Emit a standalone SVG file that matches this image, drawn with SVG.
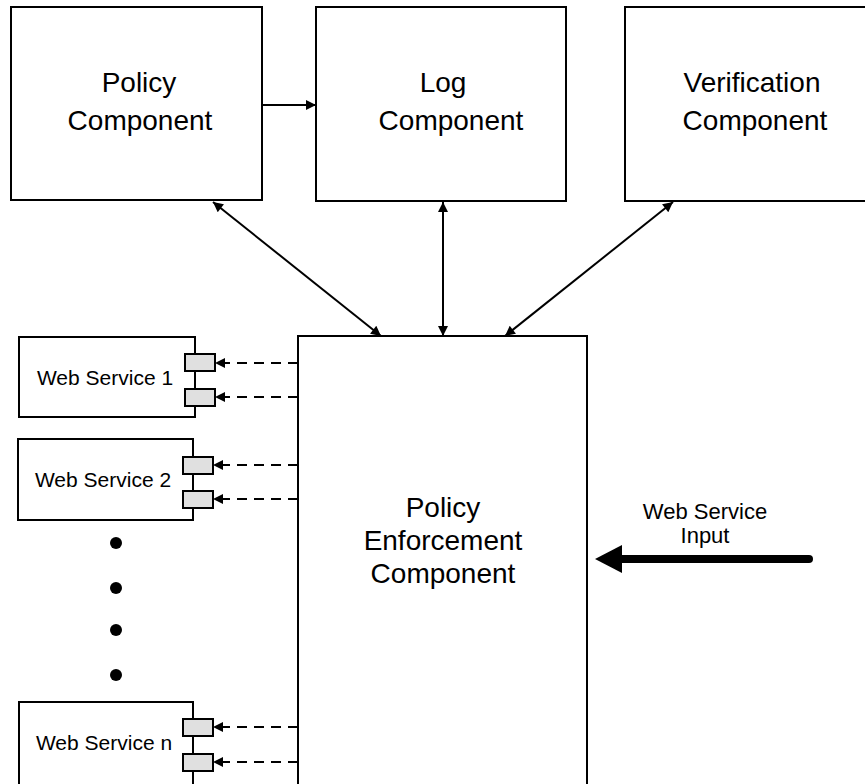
<svg xmlns="http://www.w3.org/2000/svg" width="865" height="784" viewBox="0 0 865 784">
<style>
.box{fill:#fff;stroke:#000;stroke-width:2}
.port{fill:#e0e0e0;stroke:#000;stroke-width:2}
.t{font-family:"Liberation Sans",Arial,sans-serif;fill:#000;text-anchor:middle}
.big{font-size:28px}
.sm{font-size:21px}
.in{font-size:22px}
.ln{stroke:#000;stroke-width:2;fill:none}
.dash{stroke:#000;stroke-width:2;fill:none;stroke-dasharray:10 7}
</style>
<defs>
<marker id="ah" viewBox="0 0 10 10" refX="10" refY="5" markerWidth="6" markerHeight="5" markerUnits="strokeWidth" orient="auto-start-reverse">
<path d="M0,0 L10,5 L0,10 z" fill="#000"/>
</marker>
</defs>
<rect width="865" height="784" fill="#fff"/>
<g id="policy">
<rect class="box" x="11" y="7" width="251" height="193"/>
<text class="t big" x="139" y="92">Policy</text>
<text class="t big" x="140" y="130">Component</text>
</g>
<g id="log">
<rect class="box" x="316" y="7" width="250" height="194"/>
<text class="t big" x="443" y="92">Log</text>
<text class="t big" x="451" y="130">Component</text>
</g>
<g id="verification">
<rect class="box" x="625" y="7" width="260" height="194"/>
<text class="t big" x="752" y="92">Verification</text>
<text class="t big" x="755" y="130">Component</text>
</g>
<g id="pec">
<rect class="box" x="298" y="336" width="289" height="460"/>
<text class="t big" x="443" y="517">Policy</text>
<text class="t big" x="443" y="550">Enforcement</text>
<text class="t big" x="443" y="583">Component</text>
</g>
<g id="ws1">
<rect class="box" x="19" y="337" width="176" height="80"/>
<text class="t sm" x="105" y="385">Web Service 1</text>
<rect class="port" x="185" y="354" width="30" height="17"/>
<rect class="port" x="185" y="389" width="30" height="17"/>
</g>
<g id="ws2">
<rect class="box" x="18" y="439" width="175" height="81"/>
<text class="t sm" x="103" y="487">Web Service 2</text>
<rect class="port" x="183" y="457" width="30" height="17"/>
<rect class="port" x="183" y="491" width="30" height="17"/>
</g>
<g id="wsn">
<rect class="box" x="19" y="702" width="174" height="90"/>
<text class="t sm" x="104" y="750">Web Service n</text>
<rect class="port" x="183" y="719" width="30" height="17"/>
<rect class="port" x="183" y="754" width="30" height="17"/>
</g>
<g id="dots" fill="#000">
<circle cx="116" cy="543" r="6"/>
<circle cx="116" cy="588" r="6"/>
<circle cx="116" cy="630" r="6"/>
<circle cx="116" cy="675" r="6"/>
</g>
<g id="input-label">
<text class="t in" x="705" y="519">Web Service</text>
<text class="t in" x="705" y="543">Input</text>
</g>
<g id="connectors">
<line class="ln" x1="262" y1="105" x2="316" y2="105" marker-end="url(#ah)"/>
<line class="ln" x1="213" y1="202" x2="381" y2="336" marker-start="url(#ah)" marker-end="url(#ah)"/>
<line class="ln" x1="443" y1="202" x2="443" y2="336" marker-start="url(#ah)" marker-end="url(#ah)"/>
<line class="ln" x1="673" y1="202" x2="505" y2="336" marker-start="url(#ah)" marker-end="url(#ah)"/>
<line class="dash" x1="298" y1="363" x2="215" y2="363" marker-end="url(#ah)"/>
<line class="dash" x1="298" y1="397" x2="215" y2="397" marker-end="url(#ah)"/>
<line class="dash" x1="298" y1="465" x2="213" y2="465" marker-end="url(#ah)"/>
<line class="dash" x1="298" y1="499" x2="213" y2="499" marker-end="url(#ah)"/>
<line class="dash" x1="298" y1="727" x2="213" y2="727" marker-end="url(#ah)"/>
<line class="dash" x1="298" y1="762" x2="213" y2="762" marker-end="url(#ah)"/>
<line x1="809" y1="559" x2="618" y2="559" stroke="#000" stroke-width="8" stroke-linecap="round"/>
<path d="M595,559 L622,545 L622,573 z" fill="#000"/>
</g>
</svg>
